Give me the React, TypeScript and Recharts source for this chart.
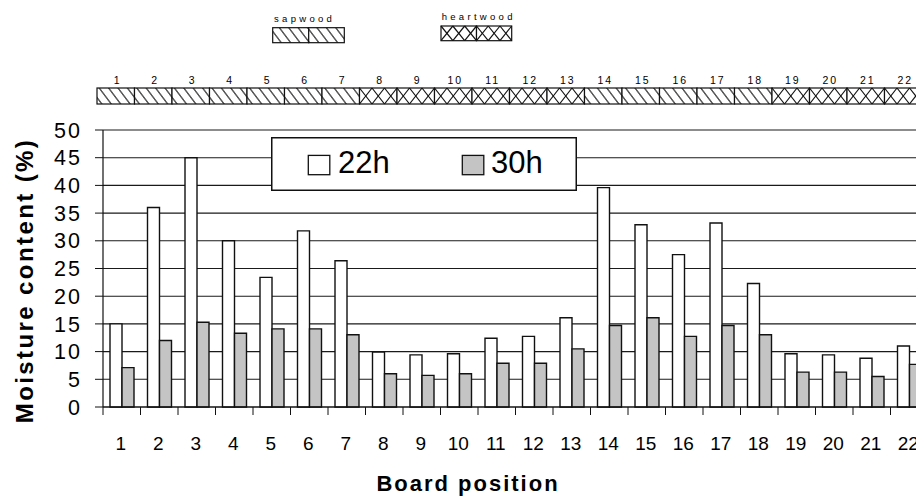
import React from 'react';
import { BarChart, Bar, XAxis, YAxis, CartesianGrid, Legend } from 'recharts';

const boards = ['1', '2', '3', '4', '5', '6', '7', '8', '9', '10', '11', '12', '13', '14', '15', '16', '17', '18', '19', '20', '21', '22'];
const moisture22h = [15, 36, 45, 30, 23.4, 31.8, 26.4, 9.9, 9.4, 9.6, 12.4, 12.75, 16.1, 39.6, 32.9, 27.5, 33.2, 22.3, 9.6, 9.4, 8.8, 11.0];
const moisture30h = [7.1, 12, 15.3, 13.3, 14.1, 14.1, 13.05, 6.0, 5.7, 6.0, 7.9, 7.9, 10.5, 14.7, 16.1, 12.75, 14.7, 13.05, 6.3, 6.3, 5.5, 7.7];
const woodType = ['sap', 'sap', 'sap', 'sap', 'sap', 'sap', 'sap', 'heart', 'heart', 'heart', 'heart', 'heart', 'heart', 'sap', 'sap', 'sap', 'sap', 'sap', 'heart', 'heart', 'heart', 'heart'];
const woodLegendLabels = ['sapwood', 'heartwood'];
const seriesNames = ['22h', '30h'];
const yTicks = [0, 5, 10, 15, 20, 25, 30, 35, 40, 45, 50];
const yTitle = 'Moisture content (%)';
const xTitle = 'Board position';

const data = boards.map((b, i) => ({
  board: b,
  h22: moisture22h[i],
  h30: moisture30h[i],
  wood: woodType[i],
}));

const FONT = "'Liberation Sans', Arial, Helvetica, sans-serif";
const INK = '#111';

function crossLines(x0: number, y0: number, w: number, h: number, n: number, key: string) {
  const out: any[] = [];
  const s = w / n;
  for (let i = 0; i < n; i++) {
    out.push(<line key={key + 'a' + i} x1={x0 + i * s} y1={y0} x2={x0 + (i + 1) * s} y2={y0 + h} stroke={INK} strokeWidth={1.2} />);
    out.push(<line key={key + 'b' + i} x1={x0 + (i + 1) * s} y1={y0} x2={x0 + i * s} y2={y0 + h} stroke={INK} strokeWidth={1.2} />);
  }
  return out;
}

function WoodCell({ x0, y0, w, h, type, k }: any) {
  return (
    <g>
      <rect x={x0} y={y0} width={w} height={h} fill={type === 'sap' ? 'url(#sapHatch)' : '#fff'} />
      {type === 'heart' ? crossLines(x0, y0, w, h, 3, k) : null}
      <rect x={x0} y={y0} width={w} height={h} fill="none" stroke={INK} strokeWidth={1.2} />
    </g>
  );
}

const StripTick = (props: any) => {
  const { x, y, payload, index } = props;
  const half = payload && payload.offset ? payload.offset : 18.75;
  const w = half * 2;
  const x0 = x - half - 6;
  const y0 = y - 42;
  const h = 16;
  return (
    <g>
      <WoodCell x0={x0} y0={y0} w={w} h={h} type={woodType[index]} k={'s' + index} />
      <text x={x0 + half + 2} y={y - 46} textAnchor="middle" fontSize={10.5} letterSpacing={2} fill="#000" fontFamily={FONT}>
        {payload.value}
      </text>
    </g>
  );
};

const BottomTick = (props: any) => {
  const { x, y, payload } = props;
  const half = payload && payload.offset ? payload.offset : 18.75;
  return (
    <g>
      <line x1={x - half} x2={x - half} y1={y} y2={y + 8} stroke={INK} strokeWidth={1} />
      <text x={x - 1} y={y + 43} textAnchor="middle" fontSize={19} fill="#000" fontFamily={FONT}>
        {payload.value}
      </text>
    </g>
  );
};

const renderLegend = (props: any) => {
  const items = props.payload || [];
  const slots = [
    { sx: 37.3, tx: 67 },
    { sx: 191.3, tx: 220 },
  ];
  return (
    <svg width={306} height={54} style={{ display: 'block' }}>
      <rect x={0.75} y={0.75} width={304.5} height={52.5} fill="#fff" stroke={INK} strokeWidth={1.5} />
      {items.map((it: any, i: number) => {
        const s = slots[i] || slots[0];
        const fill = (it.payload && it.payload.fill) || it.color;
        return (
          <g key={i}>
            <rect x={s.sx} y={18.4} width={21.5} height={19.3} fill={fill} stroke={INK} strokeWidth={1.3} />
            <text x={s.tx} y={36} fontSize={31} fill="#000" fontFamily={FONT}>
              {it.value}
            </text>
          </g>
        );
      })}
    </svg>
  );
};

export default function App() {
  return (
    <div style={{ position: 'fixed', left: 0, top: 0, width: 916, height: 496, overflow: 'hidden', background: '#fff', fontFamily: FONT }}>
      <svg width={916} height={60} style={{ position: 'absolute', left: 0, top: 0, zIndex: 2, pointerEvents: 'none' }}>
        <defs>
          <pattern id="sapHatch" patternUnits="userSpaceOnUse" width={9.4} height={20} patternTransform="skewX(37)">
            <rect x={0} y={0} width={9.4} height={20} fill="#fff" />
            <line x1={4.7} y1={-1} x2={4.7} y2={21} stroke={INK} strokeWidth={1.3} />
          </pattern>
        </defs>
        <text x={274} y={22} fontSize={9.5} letterSpacing={3.3} fill="#000" fontFamily={FONT}>{woodLegendLabels[0]}</text>
        <WoodCell x0={272.7} y0={27.7} w={36} h={15} type="sap" k="l1" />
        <WoodCell x0={308.7} y0={27.7} w={35.6} h={15} type="sap" k="l2" />
        <text x={441.7} y={19.5} fontSize={9.5} letterSpacing={3.3} fill="#000" fontFamily={FONT}>{woodLegendLabels[1]}</text>
        <WoodCell x0={441} y0={26} w={35.5} h={14.7} type="heart" k="l3" />
        <WoodCell x0={476.5} y0={26} w={35.2} h={14.7} type="heart" k="l4" />
      </svg>
      <BarChart
        width={940}
        height={496}
        data={data}
        margin={{ top: 0, right: 12, bottom: 0, left: 0 }}
        barGap={0}
        barSize={12}
      >
        <CartesianGrid vertical={false} stroke="#1a1a1a" strokeWidth={1.1} />
        <XAxis
          xAxisId="strip"
          orientation="top"
          dataKey="board"
          height={130}
          axisLine={false}
          tickLine={false}
          tickSize={0}
          tickMargin={0}
          interval={0}
          tick={<StripTick />}
        />
        <XAxis
          dataKey="board"
          height={89}
          axisLine={{ stroke: INK, strokeWidth: 1.2 }}
          tickLine={false}
          tickSize={0}
          tickMargin={0}
          interval={0}
          tick={<BottomTick />}
          label={{
            value: xTitle,
            content: (p: any) => {
              const vb = p.viewBox || { x: 103, y: 407, width: 825, height: 89 };
              return (
                <text x={vb.x + 365} y={vb.y + 84} textAnchor="middle" fontSize={22} fontWeight="bold" letterSpacing={2} fill="#000" fontFamily={FONT}>
                  {xTitle}
                </text>
              );
            },
          }}
        />
        <YAxis
          width={103}
          domain={[0, 50]}
          ticks={yTicks}
          interval={0}
          tickSize={8}
          tickMargin={13}
          axisLine={{ stroke: INK, strokeWidth: 1.2 }}
          tickLine={{ stroke: INK, strokeWidth: 1 }}
          tick={{ fontSize: 21.5, fill: '#000', letterSpacing: 2, fontFamily: FONT }}
          label={{
            value: yTitle,
            content: (p: any) => {
              const vb = p.viewBox || { x: 0, y: 130, width: 103, height: 277 };
              const cx = vb.x + 33;
              const cy = vb.y + vb.height / 2 + 12;
              return (
                <text x={cx} y={cy} transform={`rotate(-90, ${cx}, ${cy})`} textAnchor="middle" fontSize={24} fontWeight="bold" letterSpacing={2.4} fill="#000" fontFamily={FONT}>
                  {yTitle}
                </text>
              );
            },
          }}
        />
        <Legend
          layout="horizontal"
          verticalAlign="middle"
          align="center"
          wrapperStyle={{ left: 271, top: 137, width: 306, height: 54 }}
          content={renderLegend}
        />
        <Bar dataKey="h22" name={seriesNames[0]} fill="#ffffff" stroke={INK} strokeWidth={1.4} isAnimationActive={false} />
        <Bar dataKey="h30" name={seriesNames[1]} fill="#c4c4c4" stroke={INK} strokeWidth={1.4} isAnimationActive={false} />
      </BarChart>
    </div>
  );
}
